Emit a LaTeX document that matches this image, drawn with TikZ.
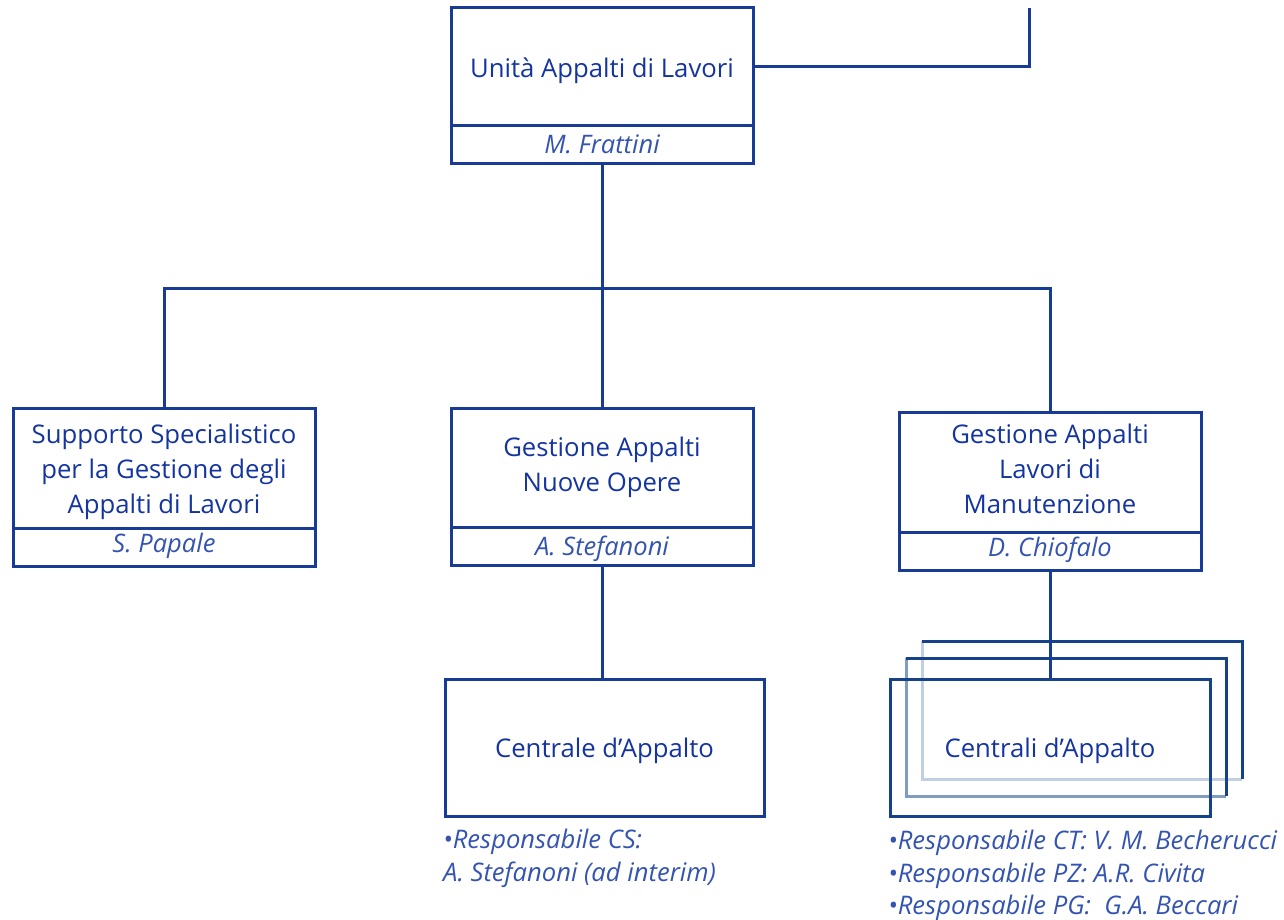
\documentclass[tikz,border=0pt]{standalone}
\usepackage{fontspec}
\setmainfont{Open Sans}
\definecolor{lineblue}{RGB}{24,60,150}
\definecolor{textblue}{RGB}{20,52,160}
\definecolor{nameblue}{RGB}{52,84,176}
\definecolor{stackdark}{RGB}{22,66,140}
\definecolor{stackmid}{RGB}{128,156,192}
\definecolor{stacklight}{RGB}{192,208,226}
\tikzset{
  boxed/.style={draw=lineblue, line width=3pt, inner sep=0pt},
  title/.style={text=textblue, font=\fontsize{25.7}{35}\selectfont, align=center, inner sep=0pt, yshift=-2.5pt},
  person/.style={text=nameblue, font=\fontsize{25.5}{35}\selectfont\itshape, inner sep=0pt, yshift=-2.5pt},
  notes/.style={text=nameblue, font=\fontsize{25.6}{32.5}\selectfont\itshape, align=left, inner sep=0pt, anchor=west, yshift=-2.5pt},
  conn/.style={draw=lineblue, line width=3pt},
}
\begin{document}
\begin{tikzpicture}[x=1pt,y=-1pt]
\useasboundingbox (0,0) rectangle (1284,920);
% top box
\node[boxed, minimum width=302pt, minimum height=156pt] (top) at (602,86) {};
\draw[conn] (451,126) -- (753,126);
\node[title] (toptitle) at (602,68) {Unità Appalti di Lavori};
\node[person] (topname) at (602,142) {M. Frattini};
\coordinate (upright) at (1029,8);
\draw[conn] (top.east |- 0,67) -| (upright);
% level 2 boxes
\node[boxed, minimum width=302pt, minimum height=158pt] (left) at (164,487) {};
\draw[conn] (13,528) -- (315,528);
\node[title] (lefttitle) at (164,469) {Supporto Specialistico\\per la Gestione degli\\Appalti di Lavori};
\node[person] (leftname) at (164,543) {S. Papale};
\node[boxed, minimum width=302pt, minimum height=157pt] (mid) at (602,486.5) {};
\draw[conn] (451,527) -- (753,527);
\node[title] (midtitle) at (602,464.5) {Gestione Appalti\\Nuove Opere};
\node[person] (midname) at (602,546) {A. Stefanoni};
\node[boxed, minimum width=302pt, minimum height=158pt] (right) at (1050,491) {};
\draw[conn] (899,532) -- (1201,532);
\node[title] (righttitle) at (1050,466) {Gestione Appalti\\Lavori di\\Manutenzione};
\node[person] (rightname) at (1050,547) {D. Chiofalo};
% tree
\coordinate (j) at (602,288);
\draw[conn] (top.south) -- (j);
\draw[conn] (left.north) |- (j) -| (right.north);
\draw[conn] (j) -- (mid.north);
% level 3
\node[boxed, minimum width=319pt, minimum height=137pt] (cen) at (604.5,747.5) {};
\node[title] (centitle) at (604.5,748) {Centrale d’Appalto};
\draw[conn] (mid.south) -- (mid.south |- cen.north);
% stacked boxes
\draw[stacklight, line width=3pt] (922,641) -- (922,779) -- (1242,779);
\draw[stackdark, line width=3pt] (922,641) -- (1242,641) -- (1242,779);
\draw[stackmid, line width=3pt] (906,658) -- (906,796) -- (1226,796);
\draw[stackdark, line width=3pt] (906,658) -- (1226,658) -- (1226,796);
\node[draw=stackdark, line width=3pt, inner sep=0pt, minimum width=320pt, minimum height=137pt] (cens) at (1050,747.5) {};
\node[title] (censtitle) at (1050,748) {Centrali d’Appalto};
\draw[conn] (right.south) -- (cens.north);
% notes
\node[notes] (notesl) at (443,856) {•Responsabile CS:\\A. Stefanoni (ad interim)};
\node[notes] (notesr) at (888,873) {•Responsabile CT: V. M. Becherucci\\•Responsabile PZ: A.R. Civita\\•Responsabile PG:\ \ G.A. Beccari};
\end{tikzpicture}
\end{document}
